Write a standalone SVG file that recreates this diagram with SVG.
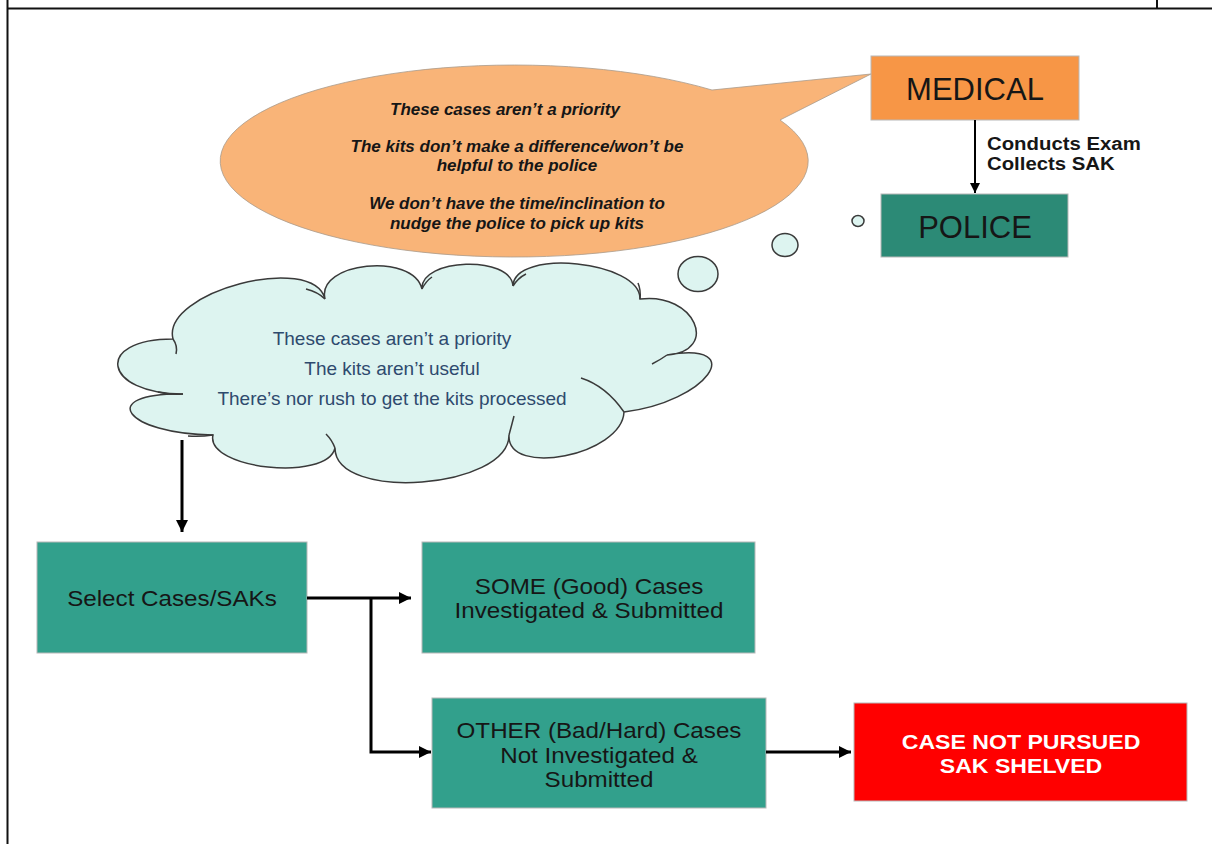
<svg xmlns="http://www.w3.org/2000/svg" width="1212" height="844" viewBox="0 0 1212 844">
  <style>
    .frame { stroke: #111; stroke-width: 2; fill: none; }
    .box { stroke: #b8b8b8; stroke-width: 1; }
    .teal { fill: #32a08c; }
    .lbl { font-family: "Liberation Sans", Arial, sans-serif; text-anchor: middle; fill: #161616; }
    .lbl.white { fill: #ffffff; font-weight: bold; }
    .think { font-family: "Liberation Sans", Arial, sans-serif; font-size: 17px; font-weight: bold; font-style: italic; text-anchor: middle; fill: #161616; }
    .cloudtxt { font-family: "Liberation Sans", Arial, sans-serif; font-size: 19px; text-anchor: middle; fill: #2e4a6e; }
    .edge-lbl { font-family: "Liberation Sans", Arial, sans-serif; font-size: 18.5px; font-weight: bold; fill: #161616; }
    .conn { stroke: #000; stroke-width: 3; fill: none; }
    .bub { fill: #ddf4f0; stroke: #3a3a3a; stroke-width: 1.5; }
  </style>
  <defs>
    <marker id="arrow" markerUnits="userSpaceOnUse" markerWidth="14" markerHeight="12" refX="12" refY="6" orient="auto">
      <path d="M0,0 L12,6 L0,12 Z" fill="#000"/>
    </marker>
    <marker id="arrowSmall" markerUnits="userSpaceOnUse" markerWidth="12" markerHeight="10" refX="10" refY="5" orient="auto">
      <path d="M0,0 L10,5 L0,10 Z" fill="#000"/>
    </marker>
  </defs>

  <rect width="1212" height="844" fill="#fff"/>

  <!-- page frame lines -->
  <g id="frame">
    <line class="frame" x1="7" y1="8.5" x2="1212" y2="8.5"/>
    <line class="frame" x1="7.5" y1="0" x2="7.5" y2="844"/>
    <line class="frame" x1="1157" y1="0" x2="1157" y2="8"/>
  </g>

  <!-- speech bubble from MEDICAL -->
  <g id="medical-thoughts">
    <path d="M712,90 L871,74 L780,120 A294,96 0 1 1 712,90 Z" fill="#f9b478" stroke="#a89a8c" stroke-width="0.8"/>
    <text class="think" x="505" y="115">These cases aren’t a priority</text>
    <text class="think" x="517" y="152">The kits don’t make a difference/won’t be</text>
    <text class="think" x="517" y="171">helpful to the police</text>
    <text class="think" x="517" y="209">We don’t have the time/inclination to</text>
    <text class="think" x="517" y="229">nudge the police to pick up kits</text>
  </g>

  <!-- thought bubbles from POLICE -->
  <g id="thought-dots">
    <ellipse class="bub" cx="858" cy="221" rx="6" ry="5.5"/>
    <ellipse class="bub" cx="785" cy="245" rx="13" ry="11.5"/>
    <ellipse class="bub" cx="698" cy="274" rx="20" ry="17.5"/>
  </g>

  <!-- police thought cloud -->
  <g id="police-thoughts">
    <path class="bub" d="M213,435
      C125,434 95,393 183,394
      C103,394 93,339 173,339
      C161,292 313,252 325,299
      C316,262 413,252 422,289
      C420,258 511,255 513,286
      C514,248 641,261 640,299
      C695,292 720,351 667,355
      C750,341 707,402 624,412
      C622,455 507,478 509,435
      C509,489 335,502 335,448
      C327,482 205,469 213,435 Z"/>
    <g fill="none" stroke="#3a3a3a" stroke-width="1.5">
      <path d="M173,339 Q178,346 176,354"/>
      <path d="M183,394 Q170,395 158,392"/>
      <path d="M325,299 Q318,292 306,289"/>
      <path d="M422,289 Q426,281 432,277"/>
      <path d="M513,286 Q518,278 526,274"/>
      <path d="M640,299 Q641,290 638,283"/>
      <path d="M667,355 Q660,360 652,364"/>
      <path d="M581,378 Q606,386 624,412"/>
      <path d="M509,435 Q512,424 514,416"/>
      <path d="M335,448 Q332,440 326,434"/>
      <path d="M213,435 Q200,437 188,436"/>
    </g>
    <text class="cloudtxt" x="392" y="344.5">These cases aren’t a priority</text>
    <text class="cloudtxt" x="392" y="374.5">The kits aren’t useful</text>
    <text class="cloudtxt" x="392" y="404.5">There’s nor rush to get the kits processed</text>
  </g>

  <g id="medical">
    <rect class="box" x="871" y="56" width="208" height="64" fill="#f79646"/>
    <text class="lbl" x="975" y="100" font-size="31">MEDICAL</text>
  </g>

  <g id="police">
    <rect class="box" x="881" y="194" width="187" height="63" fill="#2c8a76"/>
    <text class="lbl" x="975" y="238" font-size="31">POLICE</text>
  </g>

  <!-- box labels are set slightly wide: font drawn at 22px, stretched 1.1 horizontally -->
  <g id="select-cases">
    <rect class="box teal" x="37" y="542" width="270" height="111"/>
    <text class="lbl" transform="translate(172 606) scale(1.1 1)" x="0" y="0" font-size="22">Select Cases/SAKs</text>
  </g>

  <g id="some-cases">
    <rect class="box teal" x="422" y="542" width="333" height="111"/>
    <text class="lbl" transform="translate(589 594) scale(1.1 1)" x="0" y="0" font-size="22">SOME (Good) Cases</text>
    <text class="lbl" transform="translate(589 618) scale(1.1 1)" x="0" y="0" font-size="22">Investigated &amp; Submitted</text>
  </g>

  <g id="other-cases">
    <rect class="box teal" x="432" y="698" width="334" height="110"/>
    <text class="lbl" transform="translate(599 738) scale(1.1 1)" x="0" y="0" font-size="22">OTHER (Bad/Hard) Cases</text>
    <text class="lbl" transform="translate(599 762.5) scale(1.1 1)" x="0" y="0" font-size="22">Not Investigated &amp;</text>
    <text class="lbl" transform="translate(599 787) scale(1.1 1)" x="0" y="0" font-size="22">Submitted</text>
  </g>

  <g id="not-pursued">
    <rect class="box" x="854" y="703" width="333" height="98" fill="#ff0000"/>
    <text class="lbl white" transform="translate(1021 748.5) scale(1.1 1)" x="0" y="0" font-size="21">CASE NOT PURSUED</text>
    <text class="lbl white" transform="translate(1021 772.5) scale(1.1 1)" x="0" y="0" font-size="21">SAK SHELVED</text>
  </g>

  <!-- connectors -->
  <g id="connectors">
    <line x1="975" y1="120" x2="975" y2="193" stroke="#000" stroke-width="2" marker-end="url(#arrowSmall)"/>
    <text class="edge-lbl" transform="translate(987 149.5) scale(1.1 1)" x="0" y="0">Conducts Exam</text>
    <text class="edge-lbl" transform="translate(987 170) scale(1.1 1)" x="0" y="0">Collects SAK</text>
    <line class="conn" x1="182" y1="440" x2="182" y2="532" stroke-width="2.5" marker-end="url(#arrow)"/>
    <line class="conn" x1="307" y1="598" x2="411" y2="598" marker-end="url(#arrow)"/>
    <polyline class="conn" points="371,598 371,752 431,752" marker-end="url(#arrow)"/>
    <line class="conn" x1="766" y1="752" x2="851" y2="752" marker-end="url(#arrow)"/>
  </g>
</svg>
